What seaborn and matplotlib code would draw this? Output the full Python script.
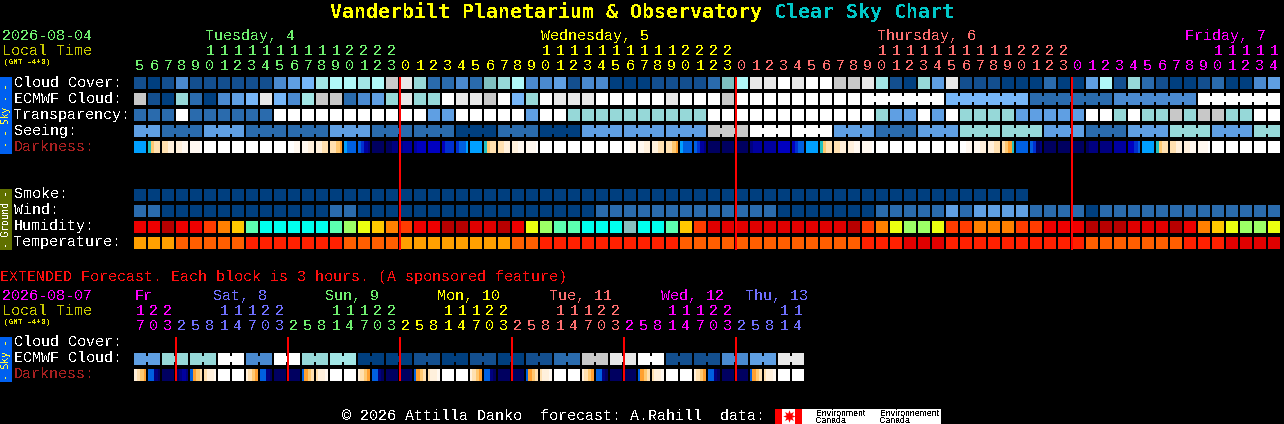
import numpy as np
import matplotlib
matplotlib.use("Agg")
import matplotlib.pyplot as plt
from matplotlib.colors import ListedColormap
from matplotlib.patches import Rectangle
import seaborn as sns

sns.set_theme(style="white")
plt.rcParams['font.family'] = ['Liberation Mono', 'DejaVu Sans Mono']
plt.rcParams['text.antialiased'] = False

# ---------- palettes (level -> colour) ----------
SKY_COLORS = ["#003F7F", "#134F8F", "#2A6BAD", "#4A8AD0", "#5F9FE3", "#76B6F8", "#7FC0C0",
              "#96D8D8", "#A2E6E6", "#B0F8F8", "#C8C8C8", "#E8E8E8", "#FFFFFF"]
DARK_KEYS = "abcdefghijklmn"
DARK_COLORS = ["#000060", "#000080", "#0000A0", "#0000C0", "#0030D0", "#0060E0", "#00A0FF",
               "#20C0C0", "#FFA030", "#FFC870", "#FFE0B0", "#FFF0DC", "#FFF8F0", "#FFFFFF"]
HUM_KEYS = "ABCDEFGHIJK"
HUM_COLORS = ["#B80000", "#E00000", "#EE0000", "#FF3C00", "#FF8000", "#FFC800", "#EBFF10",
              "#9CFF66", "#5CFFB0", "#00FFEE", "#85C0C0"]
TEMP_KEYS = "abcd"
TEMP_COLORS = ["#FFA000", "#FF5E00", "#FF2000", "#E00000"]

# ---------- main forecast rows ----------
CLOUD = [1,0,1,3,1,1,1,1,1,1,3,4,5,8,9,9,8,9,10,11,7,
         2,2,3,2,6,7,9,3,3,4,1,3,3,0,0,0,1,1,1,1,2,6,9,11,11,12,11,12,12,10,10,
         11,8,1,0,7,4,11,1,1,1,0,0,0,2,0,0,4,9,1,7,2,1,0,0,1,2,0,0,3,4]
ECMWF = [10,1,0,7,2,0,3,4,5,11,5,3,8,10,10,2,3,4,7,11,7,
         7,12,11,11,10,12,5,7,12,11,11,11,12,12,12,12,12,11,12,12,12,10,12,12,12,12,12,12,12,12,12,
         12,12,12,12,12,12, 5,5,5,5,5,5, 2,2,2,2,2,2, 3,3,3,3,3,3, 12,12,12,12,12,12]
ECMWF_SPANS = [1]*52 + [6,6,6,6,6]
TRANSP = [2,2,2,12,2,2,2,2,2,2,12,12,12,12,12,12,12,12,12,12,12,
          4,4,12,12,12,12,12,4,12,12,7,7,7,7,7,7,7,7,7,7,12,12,12,12,12,12,12,12,12,12,12,
          12,7,4,4,12,4,12,7,7,7,7,4,4,4,4,4,12,12,7,12,7,7,10,7,10,10,7,7,12,12]
SEEING_SPANS = [2] + [3]*26 + [2]
SEEING_LEVELS = [4,2,4,2,2,4,2,2,0,2,0,4,4,4,10,12,12,4,2,4,7,7,4,2,4,7,4,7]
DARKNESS = ("gggg hjkk kkll llmm mmmn nnnn nnnn nnnn nnnn nnnn nnnn nnmm mmll llkk kkji gfff fecb aaaa aabb bccc cddd "
            "dddd deee effg gggg hjkk kkll llmm mmmn nnnn nnnn nnnn nnnn nnnn nnnn nnmm mmll llkk kkji gfff fecb aaaa aaaa aaaa bccc cccc dddd deff gggg hjkk kkll llmm "
            "mmmn nnnn nnnn nnnn nnnn nnnn nnnn nnmm mmll llkk kjih ffff feab aaaa aaaa aaaa abbb bbbb cccc ddef gggg hjkk kkll llmm mmmn nnnn nnnn nnnn nnnn nnnn").split()
SMOKE = [0]*64 + [np.nan]*18
WIND = [2,2,0,0,0,0,0,0,0,0,0,0,0,0,2,2,0,0,0,0,0,
        0,0,0,0,0,0,0,0,0,0,0,0,2,2,2,2,2,2,2,2,2,2,2,2,2,0,0,0,0,0,0,
        0,2,2,2,2,2,4,2,4,4,4,4,2,2,2,2,0,2,2,2,2,2,2,2,2,2,2,2,2,2]
HUMIDITY = ("CCACCDEFIJJJJJIHGFEDC"
            "CAABBACGHIIJJJKJJIFDBBBBBBBBBBA"
            "DEGHHGDDEEEDDCCCAAABBBACEFGHHG")
TEMPERATURE = ("aaabbbbbcccccccbbbbaaaaaaaabb"
               "ccccccccccbbbbbbbbbbbbbcccddd"
               "ccccccccccbbbbbbbcccdddd")

# ---------- extended forecast ----------
EXT_ECMWF = [4,7,7,12,3,12,7,8,0,0,1,0,1,0,1,2,10,11,12,1,1,3,4,11]
EXT_DARKNESS = ("lkji ffba aaaa abcb fijk kllm nnnn nnnn lkji ffba aaaa aaaa fijk kllm nnnn nnnn "
                "lkji ffba aaaa aaaa fijk kllm nnnn nnnn lkji ffba aaaa aaaa fijk kllm nnnn nnnn "
                "lkji ffba aaaa aaaa fijk kllm nnnn nnnn lkji ffba aaaa aaaa fijk kllm nnnn nnnn").split()

# ---------- header labels ----------
HOURS = [5,6,7,8,9,10,11,12,13,14,15,16,17,18,19,20,21,22,23] + list(range(24)) + list(range(24)) + list(range(15))
HOUR_DAY = [0]*19 + [1]*24 + [2]*24 + [3]*15
DAY_COLORS = ["#70F070", "#FFFF00", "#FF7070", "#FF00FF"]
DAY_NAMES = ["Tuesday, 4", "Wednesday, 5", "Thursday, 6", "Friday, 7"]
DAY_X = [205, 541, 877, 1185]
EXT_HOURS = [17,20,23] + [2,5,8,11,14,17,20,23]*5 + [2,5,8,11,14]
EXT_DAY = [0]*3 + [1]*8 + [2]*8 + [3]*8 + [4]*8 + [5]*8 + [6]*5
EXT_DAY_COLORS = ["#FF00FF", "#7070FF", "#70F070", "#FFFF00", "#FF7070", "#FF00FF", "#7070FF"]
EXT_NAMES = ["Fr", "Sat, 8", "Sun, 9", "Mon, 10", "Tue, 11", "Wed, 12", "Thu, 13"]
EXT_X = [135, 213, 325, 437, 549, 661, 745]

W, H = 1284, 424
PX = 72 / 100
fig = plt.figure(figsize=(W / 100, H / 100), dpi=100, facecolor="black")
LEFT = 133
PITCH = 14


def draw_row(levels, colors, top, spans=None, sub=1):
    """One row of blocks: a seaborn heatmap, 12 px tall, on its own axes."""
    n = len(levels) // sub
    ax = fig.add_axes([LEFT / W, 1 - (top + 12) / H, PITCH * n / W, 12 / H])
    cmap = ListedColormap(colors)
    mat = np.array(levels, dtype=float).reshape(1, -1)
    sns.heatmap(mat, ax=ax, cmap=cmap, vmin=-0.5, vmax=len(colors) - 0.5, cbar=False,
                xticklabels=False, yticklabels=False, rasterized=True)
    ax.collections[0].set_antialiased(False)
    ax.set_facecolor("black")
    ax.set_xlim(0, n * sub)
    # block gaps: full gaps, or notches inside a joined span
    inner = set()
    if spans is not None:
        pos = 0
        for s in spans:
            inner.update(range(pos + 1, pos + s))
            pos += s
    for i in range(n + 1):
        x = i * sub
        if i in inner:
            ax.vlines(x, 0, 0.25, color="black", lw=2 * PX, antialiased=False)
            ax.vlines(x, 0.75, 1, color="black", lw=2 * PX, antialiased=False)
        else:
            ax.vlines(x, 0, 1, color="black", lw=2 * PX, antialiased=False)
    return ax


def dark_levels(cells):
    return [DARK_KEYS.index(ch) for c in cells for ch in c]


hum = [HUM_KEYS.index(c) for c in HUMIDITY]
temp = [TEMP_KEYS.index(c) for c in TEMPERATURE]
seeing = list(np.repeat(SEEING_LEVELS, SEEING_SPANS))

draw_row(CLOUD, SKY_COLORS, 77)
draw_row(ECMWF, SKY_COLORS, 93, spans=ECMWF_SPANS)
draw_row(TRANSP, SKY_COLORS, 109)
draw_row(seeing, SKY_COLORS, 125, spans=SEEING_SPANS)
draw_row(dark_levels(DARKNESS), DARK_COLORS, 141, sub=4)
draw_row(SMOKE, SKY_COLORS, 189)
draw_row(WIND, SKY_COLORS, 205)
draw_row(hum, HUM_COLORS, 221)
draw_row(temp, TEMP_COLORS, 237)
draw_row(list(np.repeat(EXT_ECMWF, 2)), SKY_COLORS, 353, spans=[2] * 24)
draw_row(dark_levels(EXT_DARKNESS), DARK_COLORS, 369, sub=4)

# overlay in pixel coordinates for text, side bars and red lines
ov = fig.add_axes([0, 0, 1, 1], zorder=5)
ov.set_xlim(0, W)
ov.set_ylim(H, 0)
ov.axis("off")
ov.patch.set_alpha(0)


def t(x, y, s, color="white", px=15, **kw):
    kw.setdefault("va", "baseline")
    kw.setdefault("ha", "left")
    ov.text(x, y, s, color=color, fontsize=px * PX, **kw)


def cell_x(i):
    return 134 + PITCH * i


# title
t(330, 18, "Vanderbilt Planetarium & Observatory", "#FFFF00", 20, fontweight="bold", family="DejaVu Sans Mono")
t(774, 18, "Clear Sky Chart", "#00C8C8", 20, fontweight="bold", family="DejaVu Sans Mono")

# main header
t(2, 40, "2026-08-04", "#70F070")
t(2, 55, "Local Time", "#C8C800")
t(4, 64, "(GMT -4+0)", "#E8E800", 7.8)
for name, x, col in zip(DAY_NAMES, DAY_X, DAY_COLORS):
    t(x, 40, name, col)
for i, (h, d) in enumerate(zip(HOURS, HOUR_DAY)):
    xc = cell_x(i) + 6
    t(xc, 70, str(h % 10), DAY_COLORS[d], ha="center")
    if h >= 10:
        t(xc, 55, str(h // 10), DAY_COLORS[d], ha="center")

# row labels
for y, s in zip([87, 103, 119, 135], ["Cloud Cover:", "ECMWF Cloud:", "Transparency:", "Seeing:"]):
    t(14, y, s)
t(14, 151, "Darkness:", "#A82020")
for y, s in zip([198, 214, 230, 246], ["Smoke:", "Wind:", "Humidity:", "Temperature:"]):
    t(14, y, s)

# extended
t(0, 281, "EXTENDED Forecast. Each block is 3 hours. (A sponsored feature)", "#FF1010")
t(2, 300, "2026-08-07", "#FF00FF")
t(2, 315, "Local Time", "#C8C800")
t(4, 324, "(GMT -4+0)", "#E8E800", 7.8)
for name, x, col in zip(EXT_NAMES, EXT_X, EXT_DAY_COLORS):
    t(x, 300, name, col)
for i, (h, d) in enumerate(zip(EXT_HOURS, EXT_DAY)):
    xc = cell_x(i) + 6
    t(xc, 330, str(h % 10), EXT_DAY_COLORS[d], ha="center")
    if h >= 10:
        t(xc, 315, str(h // 10), EXT_DAY_COLORS[d], ha="center")
t(14, 346, "Cloud Cover:")
t(14, 362, "ECMWF Cloud:")
t(14, 378, "Darkness:", "#A82020")

# side bars
for top, bottom, fc, col, s in [(77, 154, "#0060F0", "#FFFF40", "- - Sky - -"),
                                (189, 250, "#607000", "#FFFFFF", "- Ground -"),
                                (337, 382, "#0060F0", "#FFFF40", "- Sky -")]:
    ov.add_patch(Rectangle((0, top), 12, bottom - top, fc=fc, ec="none", antialiased=False))
    ov.text(6, (top + bottom) / 2, s, color=col, fontsize=9.7 * PX, rotation=90,
            ha="center", va="center", family="DejaVu Sans Mono")

# midnight lines
MIDNIGHT = [i for i, h in enumerate(HOURS) if h == 0]
EXT_MIDNIGHT = [i for i, h in enumerate(EXT_HOURS) if h == 2]
ov.vlines([cell_x(i) for i in MIDNIGHT], 77, 250, color="#FF0000", lw=2 * PX, antialiased=False)
ov.vlines([cell_x(i) for i in EXT_MIDNIGHT], 337, 381, color="#FF0000", lw=2 * PX, antialiased=False)

# footer and logo
t(342, 420, "\u00a9 2026 Attilla Danko  forecast: A.Rahill  data:")
ov.add_patch(Rectangle((775, 409), 166, 15, fc="white", ec="none", antialiased=False))
ov.add_patch(Rectangle((775, 409), 7, 15, fc="#FF0000", ec="none", antialiased=False))
ov.add_patch(Rectangle((795, 409), 7, 15, fc="#FF0000", ec="none", antialiased=False))
ov.plot([788.5], [416], marker=(8, 1, 0), ms=9, color="#FF0000", mec="none")
for x, a in zip([816, 880], ["Environment", "Environnement"]):
    ov.text(x, 416, a, color="black", fontsize=8.8 * PX, family="Liberation Sans", va="baseline")
    ov.text(x, 423, "Canada", color="black", fontsize=8.8 * PX, family="Liberation Sans", va="baseline")

fig.savefig("out.png", dpi=100, facecolor="black")
